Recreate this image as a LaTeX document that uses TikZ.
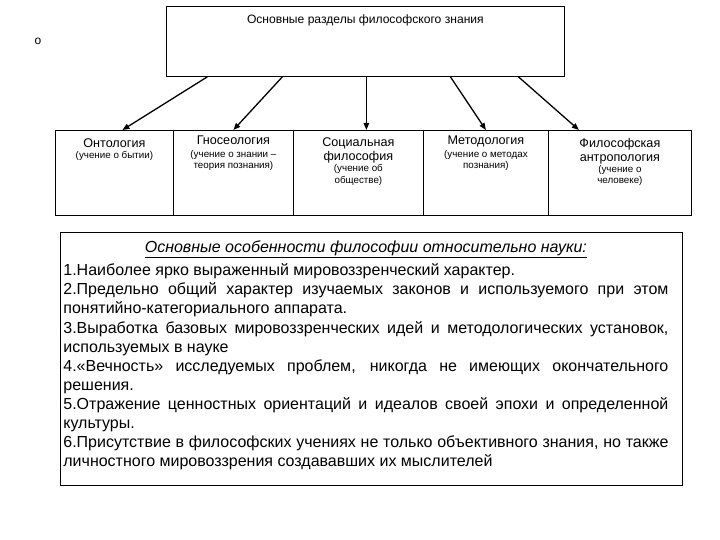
\documentclass[tikz,border=0pt]{standalone}
\usepackage{fontspec}
\setmainfont{Liberation Sans}
\usetikzlibrary{arrows.meta}

\newcommand{\boxtext}[3]{\parbox[c][#1][t]{#2}{\centering #3}}
\newcommand{\headfont}{\fontsize{12.6}{14}\selectfont}
\newcommand{\notefont}{\fontsize{9.8}{11.2}\selectfont}

\begin{document}
\begin{tikzpicture}[x=1pt,y=-1pt]
        \tikzset{razdel style/.style={draw, rectangle, inner sep=0pt, anchor=north west, line width=0.8pt}}
        \tikzset{arrow style/.style={-{Triangle[length=7pt,width=5.5pt]}, line width=1.3pt}}

        \useasboundingbox (0,0) rectangle (720,540);

        \node[font=\fontsize{12}{14}\selectfont] (marker) at (38,41) {o};

        \node[razdel style] (razdely) at (166,6) {\boxtext{70pt}{398pt}{\vspace{8pt}\fontsize{12.1}{14}\selectfont Основные разделы философского знания}};

        \node[razdel style] (ontologiya) at (55,130) {\boxtext{85pt}{118pt}{\vspace{8pt}{\headfont Онтология\par}\vspace{0pt}\notefont (учение о бытии)}};
        \node[razdel style] (gnoseologiya) at (173,130) {\boxtext{85pt}{120pt}{\vspace{5.5pt}{\headfont Гносеология\par}\vspace{2pt}\notefont (учение о знании –\\ теория познания)}};
        \node[razdel style] (socialnaya) at (293,130) {\boxtext{85pt}{130pt}{\vspace{7.5pt}{\headfont Социальная\\ философия\par}\vspace{0pt}\notefont (учение об\\ обществе)}};
        \node[razdel style] (metodologiya) at (423,130) {\boxtext{85pt}{125pt}{\vspace{5.5pt}{\headfont Методология\par}\vspace{2pt}\notefont (учение о методах\\ познания)}};
        \node[razdel style] (antropologiya) at (548,130) {\boxtext{85pt}{143pt}{\vspace{7.5pt}{\headfont Философская\\ антропология\par}\vspace{0.5pt}\notefont (учение о\\ человеке)}};

        \draw[arrow style] ([xshift=-158pt]razdely.south) -- ([xshift=8pt]ontologiya.north);
        \draw[arrow style] ([xshift=-83pt]razdely.south) -- (gnoseologiya.north);
        \draw[arrow style] ([xshift=1pt]razdely.south) -- ([xshift=8pt]socialnaya.north);
        \draw[arrow style] ([xshift=85pt]razdely.south) -- (metodologiya.north);
        \draw[arrow style] ([xshift=153pt]razdely.south) -- ([xshift=-41pt]antropologiya.north);

        \node[razdel style] (osobennosti) at (60,232) {\hspace{3pt}\parbox[c][253pt][t]{605pt}{\fontsize{16}{19.1}\selectfont\tolerance=9999\emergencystretch=10pt\vspace{8.5pt}
            {\centering\itshape\underline{Основные особенности философии относительно науки:}\par}
            \vspace{4pt}
            1.Наиболее ярко выраженный мировоззренческий характер.\par
            2.Предельно общий характер изучаемых законов и используемого при этом\linebreak понятийно-категориального аппарата.\par
            3.Выработка базовых мировоззренческих идей и методологических установок,\linebreak используемых в науке\par
            4.«Вечность» исследуемых проблем, никогда не имеющих окончательного\linebreak решения.\par
            5.Отражение ценностных ориентаций и идеалов своей эпохи и определенной\linebreak культуры.\par
            6.Присутствие в философских учениях не только объективного знания, но также\linebreak личностного мировоззрения создававших их мыслителей\par}\hspace{14pt}\null};
    \end{tikzpicture}
\end{document}
